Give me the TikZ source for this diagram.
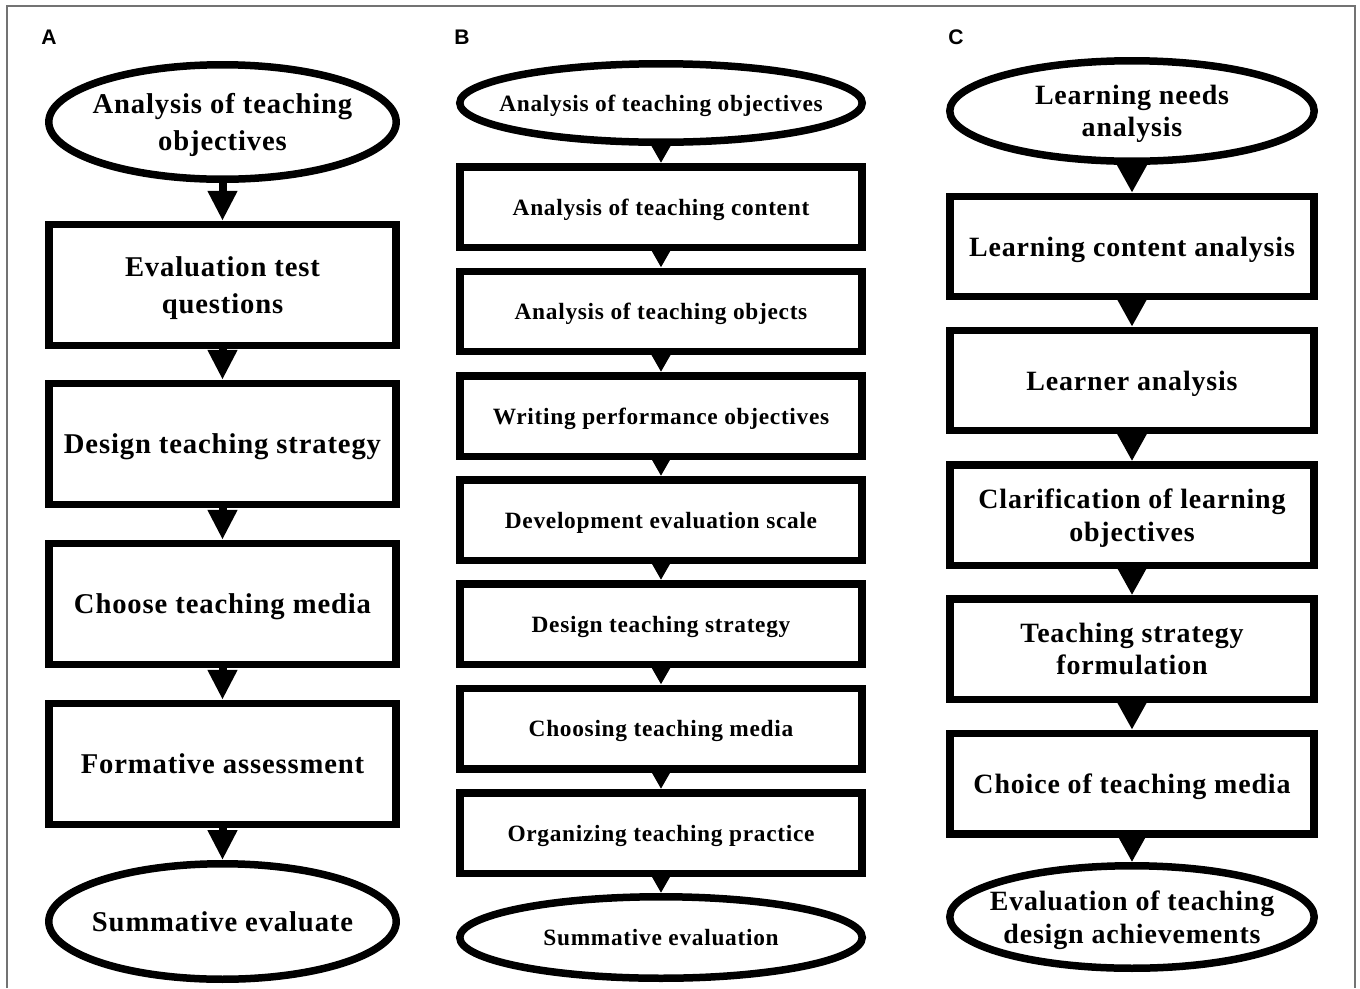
\documentclass[tikz,border=0pt]{standalone}
\usepackage{fontspec}
\usepackage{tikz}
\usetikzlibrary{arrows.meta}
\usetikzlibrary{shapes.geometric}
\setmainfont{Liberation Serif}
\newfontfamily\stepfont{Liberation Serif}[LetterSpace=3]
\newfontfamily\panelfont{Liberation Sans}
\tikzset{stepbox/.style = {draw, line width=0.15cm, rectangle, align=center, inner sep=0pt,
                           text depth=0pt}}
\tikzset{stepoval/.style = {draw, line width=0.15cm, ellipse, align=center, text depth=0pt,
                            inner xsep=-1.2cm, inner ysep=-0.5cm}}
\tikzset{colA/.style = {minimum width=6.95cm, minimum height=2.42cm,
                        font=\stepfont\bfseries\fontsize{16.3}{21.5}\selectfont}}
\tikzset{colB/.style = {minimum width=8.05cm, minimum height=1.61cm,
                        font=\stepfont\bfseries\fontsize{13.3}{16}\selectfont}}
\tikzset{colC/.style = {minimum width=7.29cm, minimum height=2.01cm,
                        font=\stepfont\bfseries\fontsize{15.9}{18.5}\selectfont}}
\tikzset{flowA/.style = {line width=0.16cm, -{Triangle[width=0.56cm, length=0.6cm]}}}
\tikzset{flowB/.style = {line width=0.12cm, -{Triangle[width=0.44cm, length=0.42cm]}}}
\tikzset{flowC/.style = {line width=0.12cm, -{Triangle[width=0.58cm, length=0.56cm]}}}
\tikzset{panel/.style = {font=\panelfont\bfseries\fontsize{12}{14}\selectfont}}
\definecolor{mgray}{rgb}{0.45, 0.45, 0.45}

\begin{document}
\begin{tikzpicture}[x=0.02cm, y=-0.02cm]
      \useasboundingbox (0, 0) rectangle (1360, 988);
      \draw [mgray, line width=0.03cm] (7, 988) -- (7, 6) -- (1355, 6) -- (1355, 988);
      \node [panel] (labA) at (49, 37) {A};
      \node [panel] (labB) at (462, 37) {B};
      \node [panel] (labC) at (956, 37) {C};
      % A
      \node [stepoval, colA, minimum height=2.29cm] (a0) at (222.5, 122) {Analysis of teaching\\objectives};
      \node [stepbox, colA] (a1) at (222.5, 285) {Evaluation test\\questions};
      \node [stepbox, colA] (a2) at (222.5, 444) {Design teaching strategy};
      \node [stepbox, colA] (a3) at (222.5, 604) {Choose teaching media};
      \node [stepbox, colA] (a4) at (222.5, 764) {Formative assessment};
      \node [stepoval, colA, minimum height=2.31cm] (a5) at (222.5, 921.5) {Summative evaluate};
      \foreach \s/\t in {a0/a1, a1/a2, a2/a3, a3/a4, a4/a5}
        \draw [flowA] (\s.south) -- (\t.north);
      % B
      \node [stepoval, colB, minimum height=1.57cm] (b0) at (661, 103) {Analysis of teaching objectives};
      \node [stepbox, colB] (b1) at (661, 207) {Analysis of teaching content};
      \node [stepbox, colB] (b2) at (661, 311.5) {Analysis of teaching objects};
      \node [stepbox, colB] (b3) at (661, 416) {Writing performance objectives};
      \node [stepbox, colB] (b4) at (661, 520) {Development evaluation scale};
      \node [stepbox, colB] (b5) at (661, 624) {Design teaching strategy};
      \node [stepbox, colB] (b6) at (661, 728.5) {Choosing teaching media};
      \node [stepbox, colB] (b7) at (661, 833) {Organizing teaching practice};
      \node [stepoval, colB, minimum height=1.63cm] (b8) at (661, 937.5) {Summative evaluation};
      \foreach \s/\t in {b0/b1, b1/b2, b2/b3, b3/b4, b4/b5, b5/b6, b6/b7, b7/b8}
        \draw [flowB] (\s.south) -- (\t.north);
      % C
      \node [stepoval, colC] (c0) at (1132, 111) {Learning needs\\analysis};
      \node [stepbox, colC] (c1) at (1132, 246.5) {Learning content analysis};
      \node [stepbox, colC] (c2) at (1132, 380.5) {Learner analysis};
      \node [stepbox, colC] (c3) at (1132, 515) {Clarification of learning\\objectives};
      \node [stepbox, colC] (c4) at (1132, 649) {Teaching strategy\\formulation};
      \node [stepbox, colC] (c5) at (1132, 783.5) {Choice of teaching media};
      \node [stepoval, colC, minimum height=2.05cm] (c6) at (1132, 917) {Evaluation of teaching\\design achievements};
      \foreach \s/\t in {c0/c1, c1/c2, c2/c3, c3/c4, c4/c5, c5/c6}
        \draw [flowC] (\s.south) -- (\t.north);
\end{tikzpicture}
\end{document}
